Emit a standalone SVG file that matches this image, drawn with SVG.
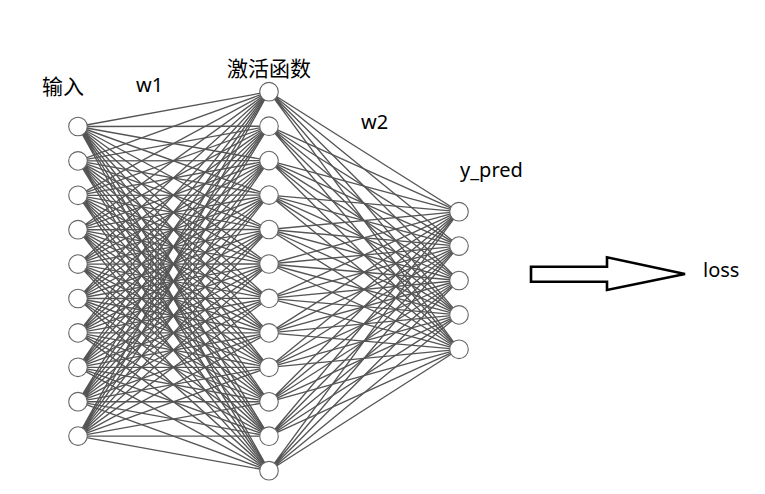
<svg xmlns="http://www.w3.org/2000/svg" width="765" height="494" viewBox="0 0 765 494">
<style>
.bg{fill:#fff}
.c{stroke:#555;stroke-width:1.35;fill:none}
.n{fill:#fff;stroke:#666;stroke-width:1.1}
.t{font-family:"Noto Sans","Noto Sans CJK SC",sans-serif;font-size:20px;fill:#000}
.cjk{font-family:"Noto Sans CJK SC",sans-serif;font-size:21px}
.a{fill:#fff;stroke:#000;stroke-width:2.6;stroke-linejoin:miter}
</style>
<rect class="bg" width="765" height="494"/>
<g id="connectors" class="c">
<path d="M78 126.5L269 91.7M78 126.5L269 126.2M78 126.5L269 160.6M78 126.5L269 195.1M78 126.5L269 229.5M78 126.5L269 264M78 126.5L269 298.4M78 126.5L269 332.9M78 126.5L269 367.3M78 126.5L269 401.8M78 126.5L269 436.2M78 126.5L269 470.7"/>
<path d="M78 160.9L269 91.7M78 160.9L269 126.2M78 160.9L269 160.6M78 160.9L269 195.1M78 160.9L269 229.5M78 160.9L269 264M78 160.9L269 298.4M78 160.9L269 332.9M78 160.9L269 367.3M78 160.9L269 401.8M78 160.9L269 436.2M78 160.9L269 470.7"/>
<path d="M78 195.3L269 91.7M78 195.3L269 126.2M78 195.3L269 160.6M78 195.3L269 195.1M78 195.3L269 229.5M78 195.3L269 264M78 195.3L269 298.4M78 195.3L269 332.9M78 195.3L269 367.3M78 195.3L269 401.8M78 195.3L269 436.2M78 195.3L269 470.7"/>
<path d="M78 229.7L269 91.7M78 229.7L269 126.2M78 229.7L269 160.6M78 229.7L269 195.1M78 229.7L269 229.5M78 229.7L269 264M78 229.7L269 298.4M78 229.7L269 332.9M78 229.7L269 367.3M78 229.7L269 401.8M78 229.7L269 436.2M78 229.7L269 470.7"/>
<path d="M78 264.1L269 91.7M78 264.1L269 126.2M78 264.1L269 160.6M78 264.1L269 195.1M78 264.1L269 229.5M78 264.1L269 264M78 264.1L269 298.4M78 264.1L269 332.9M78 264.1L269 367.3M78 264.1L269 401.8M78 264.1L269 436.2M78 264.1L269 470.7"/>
<path d="M78 298.5L269 91.7M78 298.5L269 126.2M78 298.5L269 160.6M78 298.5L269 195.1M78 298.5L269 229.5M78 298.5L269 264M78 298.5L269 298.4M78 298.5L269 332.9M78 298.5L269 367.3M78 298.5L269 401.8M78 298.5L269 436.2M78 298.5L269 470.7"/>
<path d="M78 332.9L269 91.7M78 332.9L269 126.2M78 332.9L269 160.6M78 332.9L269 195.1M78 332.9L269 229.5M78 332.9L269 264M78 332.9L269 298.4M78 332.9L269 332.9M78 332.9L269 367.3M78 332.9L269 401.8M78 332.9L269 436.2M78 332.9L269 470.7"/>
<path d="M78 367.3L269 91.7M78 367.3L269 126.2M78 367.3L269 160.6M78 367.3L269 195.1M78 367.3L269 229.5M78 367.3L269 264M78 367.3L269 298.4M78 367.3L269 332.9M78 367.3L269 367.3M78 367.3L269 401.8M78 367.3L269 436.2M78 367.3L269 470.7"/>
<path d="M78 401.7L269 91.7M78 401.7L269 126.2M78 401.7L269 160.6M78 401.7L269 195.1M78 401.7L269 229.5M78 401.7L269 264M78 401.7L269 298.4M78 401.7L269 332.9M78 401.7L269 367.3M78 401.7L269 401.8M78 401.7L269 436.2M78 401.7L269 470.7"/>
<path d="M78 436.1L269 91.7M78 436.1L269 126.2M78 436.1L269 160.6M78 436.1L269 195.1M78 436.1L269 229.5M78 436.1L269 264M78 436.1L269 298.4M78 436.1L269 332.9M78 436.1L269 367.3M78 436.1L269 401.8M78 436.1L269 436.2M78 436.1L269 470.7"/>
<path d="M269 91.7L459 211.7M269 91.7L459 246.1M269 91.7L459 280.5M269 91.7L459 314.9M269 91.7L459 349.3"/>
<path d="M269 126.2L459 211.7M269 126.2L459 246.1M269 126.2L459 280.5M269 126.2L459 314.9M269 126.2L459 349.3"/>
<path d="M269 160.6L459 211.7M269 160.6L459 246.1M269 160.6L459 280.5M269 160.6L459 314.9M269 160.6L459 349.3"/>
<path d="M269 195.1L459 211.7M269 195.1L459 246.1M269 195.1L459 280.5M269 195.1L459 314.9M269 195.1L459 349.3"/>
<path d="M269 229.5L459 211.7M269 229.5L459 246.1M269 229.5L459 280.5M269 229.5L459 314.9M269 229.5L459 349.3"/>
<path d="M269 264L459 211.7M269 264L459 246.1M269 264L459 280.5M269 264L459 314.9M269 264L459 349.3"/>
<path d="M269 298.4L459 211.7M269 298.4L459 246.1M269 298.4L459 280.5M269 298.4L459 314.9M269 298.4L459 349.3"/>
<path d="M269 332.9L459 211.7M269 332.9L459 246.1M269 332.9L459 280.5M269 332.9L459 314.9M269 332.9L459 349.3"/>
<path d="M269 367.3L459 211.7M269 367.3L459 246.1M269 367.3L459 280.5M269 367.3L459 314.9M269 367.3L459 349.3"/>
<path d="M269 401.8L459 211.7M269 401.8L459 246.1M269 401.8L459 280.5M269 401.8L459 314.9M269 401.8L459 349.3"/>
<path d="M269 436.2L459 211.7M269 436.2L459 246.1M269 436.2L459 280.5M269 436.2L459 314.9M269 436.2L459 349.3"/>
<path d="M269 470.7L459 211.7M269 470.7L459 246.1M269 470.7L459 280.5M269 470.7L459 314.9M269 470.7L459 349.3"/>
</g>
<g id="input-layer">
<circle id="in1" class="n" cx="78" cy="126.5" r="9.3"/>
<circle id="in2" class="n" cx="78" cy="160.9" r="9.3"/>
<circle id="in3" class="n" cx="78" cy="195.3" r="9.3"/>
<circle id="in4" class="n" cx="78" cy="229.7" r="9.3"/>
<circle id="in5" class="n" cx="78" cy="264.1" r="9.3"/>
<circle id="in6" class="n" cx="78" cy="298.5" r="9.3"/>
<circle id="in7" class="n" cx="78" cy="332.9" r="9.3"/>
<circle id="in8" class="n" cx="78" cy="367.3" r="9.3"/>
<circle id="in9" class="n" cx="78" cy="401.7" r="9.3"/>
<circle id="in10" class="n" cx="78" cy="436.1" r="9.3"/>
</g>
<g id="hidden-layer">
<circle id="h1" class="n" cx="269" cy="91.7" r="9.3"/>
<circle id="h2" class="n" cx="269" cy="126.2" r="9.3"/>
<circle id="h3" class="n" cx="269" cy="160.6" r="9.3"/>
<circle id="h4" class="n" cx="269" cy="195.1" r="9.3"/>
<circle id="h5" class="n" cx="269" cy="229.5" r="9.3"/>
<circle id="h6" class="n" cx="269" cy="264" r="9.3"/>
<circle id="h7" class="n" cx="269" cy="298.4" r="9.3"/>
<circle id="h8" class="n" cx="269" cy="332.9" r="9.3"/>
<circle id="h9" class="n" cx="269" cy="367.3" r="9.3"/>
<circle id="h10" class="n" cx="269" cy="401.8" r="9.3"/>
<circle id="h11" class="n" cx="269" cy="436.2" r="9.3"/>
<circle id="h12" class="n" cx="269" cy="470.7" r="9.3"/>
</g>
<g id="output-layer">
<circle id="o1" class="n" cx="459" cy="211.7" r="9.3"/>
<circle id="o2" class="n" cx="459" cy="246.1" r="9.3"/>
<circle id="o3" class="n" cx="459" cy="280.5" r="9.3"/>
<circle id="o4" class="n" cx="459" cy="314.9" r="9.3"/>
<circle id="o5" class="n" cx="459" cy="349.3" r="9.3"/>
</g>
<g id="arrow">
<polygon class="a" points="531,266.7 607,266.7 607,257.3 685,274 607,290 607,281.7 531,281.7"/>
</g>
<g id="labels">
<text class="t cjk" x="42" y="93.5">输入</text>
<text class="t" x="136" y="91.5">w1</text>
<text class="t cjk" x="227" y="75.5">激活函数</text>
<text class="t" x="361" y="128.5">w2</text>
<text class="t" x="460" y="177">y_pred</text>
<text class="t" x="703" y="277.3">loss</text>
</g>
</svg>
